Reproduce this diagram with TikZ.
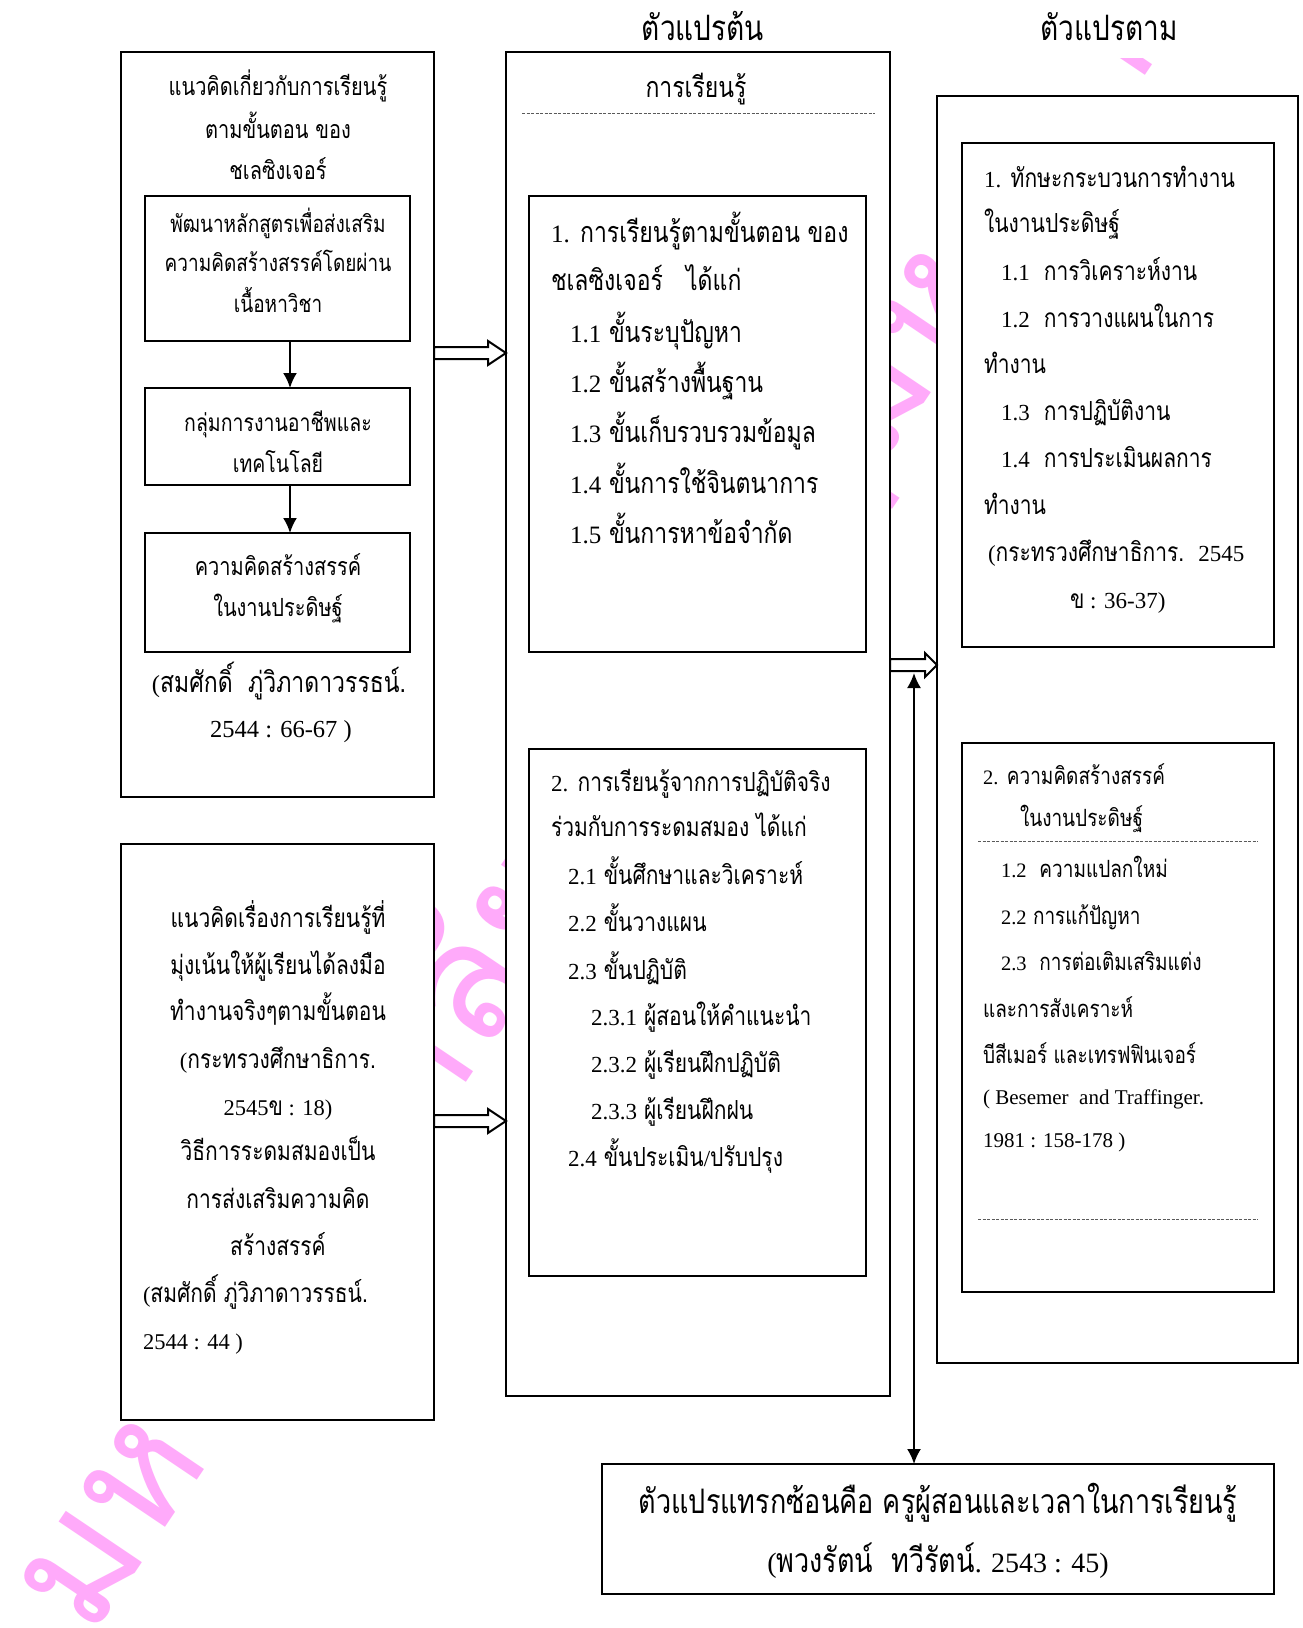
\documentclass[tikz,border=0pt]{standalone}
\usepackage{fontspec}
\usetikzlibrary{calc,arrows.meta}
\newfontfamily\thf[Script=Thai,FakeStretch=0.8]{Loma}
\newfontfamily\wmf[Script=Thai]{Loma}
\newfontfamily\latf{Liberation Serif}
\newcommand\fsz[2]{\thf\fontsize{#1}{#1}\selectfont\def\dgs{#2}}
\newcommand\dg[1]{{\latf\fontsize{\dgs}{\dgs}\selectfont #1}}
\newcommand\lsz[1]{\latf\fontsize{#1}{#1}\selectfont}
\definecolor{wmpink}{RGB}{255,170,250}
\definecolor{dashgray}{RGB}{90,90,90}
\newcommand\harrow[3]{%
 \draw[hollow] ($(#1)+(0,-6)$) -- ($(#2)+(-#3,-6)$) -- ($(#2)+(-#3,-12)$) -- (#2) -- ($(#2)+(-#3,12)$) -- ($(#2)+(-#3,6)$) -- ($(#1)+(0,6)$) -- cycle;}
\begin{document}
\begin{tikzpicture}[x=1pt,y=-1pt,
 box/.style={draw, line width=2pt, fill=white, inner sep=0pt, outer sep=0pt},
 tl/.style={anchor=base west, inner sep=0pt, outer sep=0pt},
 tc/.style={anchor=base, inner sep=0pt, outer sep=0pt},
 hollow/.style={draw, line width=2pt, fill=white, line join=miter},
 dline/.style={draw=dashgray, line width=0.9pt, dash pattern=on 3pt off 1.5pt},
 sarrow/.style={line width=2pt, -{Latex[length=15pt,width=14pt]}},
 darrow/.style={line width=2pt, {Latex[length=15pt,width=14pt]}-{Latex[length=15pt,width=14pt]}},
 wm/.style={anchor=base west, inner sep=0pt, text=wmpink, font=\wmf\fontsize{165}{165}\selectfont, rotate=56}
]
\useasboundingbox (0,0) rectangle (1303,1628);
\fill[white] (0,0) rectangle (1303,1628);
% watermark
\begin{scope}
\clip (0,1628) -- (0,96) -- (1095,96) -- (1095,58) -- (1165,58) -- (1165,96) -- (1303,96) -- (1303,1628) -- cycle;
\node[wm] (wmark) at (90,1640) {มหาวิทยาลัยราชภัฏมหาสารคาม};
\end{scope}
% outer boxes
\node[box, minimum width=313pt, minimum height=745pt] (A) at (277.5,424.5) {};
\node[box, minimum width=313pt, minimum height=576pt] (C) at (277.5,1132) {};
\node[box, minimum width=384pt, minimum height=1344pt] (D) at (698,724) {};
\node[box, minimum width=361pt, minimum height=1267pt] (F) at (1117.5,729.5) {};
\node[box, minimum width=672pt, minimum height=130pt] (H) at (938,1529) {};
% inner boxes
\node[box, minimum width=265pt, minimum height=145pt] (B1) at (277.5,268.5) {};
\node[box, minimum width=265pt, minimum height=97pt] (B2) at (277.5,436.5) {};
\node[box, minimum width=265pt, minimum height=119pt] (B3) at (277.5,592.5) {};
\node[box, minimum width=337pt, minimum height=456pt] (E1) at (697.5,424) {};
\node[box, minimum width=337pt, minimum height=527pt] (E2) at (697.5,1012.5) {};
\node[box, minimum width=312pt, minimum height=504pt] (G1) at (1118,395) {};
\node[box, minimum width=312pt, minimum height=549pt] (G2) at (1118,1017.5) {};
% dashed lines
\coordinate (d1s) at (522,113); \coordinate (d1e) at (875,113);
\coordinate (d2s) at (978,841); \coordinate (d2e) at (1258,841);
\coordinate (d3s) at (978,1219); \coordinate (d3e) at (1258,1219);
\draw[dline] (d1s) -- (d1e);
\draw[dline] (d2s) -- (d2e);
\draw[dline] (d3s) -- (d3e);
% arrows
\draw[sarrow] (B1.south -| 290,0) -- (B2.north -| 290,0);
\draw[sarrow] (B2.south -| 290,0) -- (B3.north -| 290,0);
\coordinate (h1s) at (A.east |- 0,353); \coordinate (h1e) at (D.west |- 0,353);
\coordinate (h2s) at (C.east |- 0,1121); \coordinate (h2e) at (D.west |- 0,1121);
\coordinate (h3s) at (D.east |- 0,665); \coordinate (h3e) at (F.west |- 0,665);
\harrow{h1s}{h1e}{18}
\harrow{h2s}{h2e}{18}
\harrow{h3s}{h3e}{12}
\coordinate (vt) at (914,673);
\draw[darrow] (vt) -- (vt |- H.north);
% titles
\node[tc, font=\fsz{35}{28}] (t1) at (703,40) {ตัวแปรต้น};
\node[tc, font=\fsz{35}{28}] (t2) at (1109,40) {ตัวแปรตาม};
% box A text
\node[tc, font=\fsz{25}{21}] (a1) at (278,95) {แนวคิดเกี่ยวกับการเรียนรู้};
\node[tc, font=\fsz{25}{21}] (a2) at (278,138) {ตามขั้นตอน ของ};
\node[tc, font=\fsz{25}{21}] (a3) at (278,179) {ชเลซิงเจอร์};
\node[tc, font=\fsz{23.75}{20}] (b11) at (278,232) {พัฒนาหลักสูตรเพื่อส่งเสริม};
\node[tc, font=\fsz{23.75}{20}] (b12) at (278,271) {ความคิดสร้างสรรค์โดยผ่าน};
\node[tc, font=\fsz{23.75}{20}] (b13) at (278,312) {เนื้อหาวิชา};
\node[tc, font=\fsz{24.4}{20}] (b21) at (278,431) {กลุ่มการงานอาชีพและ};
\node[tc, font=\fsz{24.4}{20}] (b22) at (278,472) {เทคโนโลยี};
\node[tc, font=\fsz{25}{20}] (b31) at (278,575) {ความคิดสร้างสรรค์};
\node[tc, font=\fsz{25}{20}] (b32) at (278,616) {ในงานประดิษฐ์};
\node[tc, font=\fsz{28.75}{24.5}] (ac1) at (279,692) {\dg{(}สมศักดิ์\ \ ภู่วิภาดาวรรธน์.};
\node[tc, font=\fsz{28.75}{24.5}] (ac2) at (281,737) {\dg{2544 : 66-67 )}};
% box C text
\node[tc, font=\fsz{26.25}{22.5}] (c1) at (278,927) {แนวคิดเรื่องการเรียนรู้ที่};
\node[tc, font=\fsz{26.25}{22.5}] (c2) at (278,974) {มุ่งเน้นให้ผู้เรียนได้ลงมือ};
\node[tc, font=\fsz{26.25}{22.5}] (c3) at (278,1020) {ทำงานจริงๆตามขั้นตอน};
\node[tc, font=\fsz{26.25}{22.5}] (c4) at (278,1068) {\dg{(}กระทรวงศึกษาธิการ.};
\node[tc, font=\fsz{26.25}{22.5}] (c5) at (278,1115) {\dg{2545}ข\dg{ : 18)}};
\node[tc, font=\fsz{26.25}{22.5}] (c6) at (278,1160) {วิธีการระดมสมองเป็น};
\node[tc, font=\fsz{26.25}{22.5}] (c7) at (278,1208) {การส่งเสริมความคิด};
\node[tc, font=\fsz{26.25}{22.5}] (c8) at (278,1255) {สร้างสรรค์};
\node[tl, font=\fsz{26.25}{22.5}] (c9) at (143,1302) {\dg{(}สมศักดิ์ ภู่วิภาดาวรรธน์.};
\node[tl, font=\fsz{26.25}{22.5}] (c10) at (143,1349) {\dg{2544 : 44 )}};
% box D text
\node[tc, font=\fsz{28.75}{24}] (dh) at (696,97) {การเรียนรู้};
\node[tl, font=\fsz{28.75}{25}] (e11) at (551,242) {\dg{1.} การเรียนรู้ตามขั้นตอน ของ};
\node[tl, font=\fsz{28.75}{25}] (e12) at (551,290) {ชเลซิงเจอร์\ \ \ ได้แก่};
\node[tl, font=\fsz{28.75}{25}] (e13) at (570,342) {\dg{1.1} ขั้นระบุปัญหา};
\node[tl, font=\fsz{28.75}{25}] (e14) at (570,392) {\dg{1.2} ขั้นสร้างพื้นฐาน};
\node[tl, font=\fsz{28.75}{25}] (e15) at (570,442) {\dg{1.3} ขั้นเก็บรวบรวมข้อมูล};
\node[tl, font=\fsz{28.75}{25}] (e16) at (570,493) {\dg{1.4} ขั้นการใช้จินตนาการ};
\node[tl, font=\fsz{28.75}{25}] (e17) at (570,543) {\dg{1.5} ขั้นการหาข้อจำกัด};
\node[tl, font=\fsz{26.25}{23}] (e21) at (551,791) {\dg{2.} การเรียนรู้จากการปฏิบัติจริง};
\node[tl, font=\fsz{26.25}{23}] (e22) at (551,836) {ร่วมกับการระดมสมอง ได้แก่};
\node[tl, font=\fsz{26.25}{23}] (e23) at (568,884) {\dg{2.1} ขั้นศึกษาและวิเคราะห์};
\node[tl, font=\fsz{26.25}{23}] (e24) at (568,931) {\dg{2.2} ขั้นวางแผน};
\node[tl, font=\fsz{26.25}{23}] (e25) at (568,979) {\dg{2.3} ขั้นปฏิบัติ};
\node[tl, font=\fsz{26.25}{23}] (e26) at (591,1025) {\dg{2.3.1} ผู้สอนให้คำแนะนำ};
\node[tl, font=\fsz{26.25}{23}] (e27) at (591,1072) {\dg{2.3.2} ผู้เรียนฝึกปฏิบัติ};
\node[tl, font=\fsz{26.25}{23}] (e28) at (591,1119) {\dg{2.3.3} ผู้เรียนฝึกฝน};
\node[tl, font=\fsz{26.25}{23}] (e29) at (568,1166) {\dg{2.4} ขั้นประเมิน\dg{/}ปรับปรุง};
% box G1 text
\node[tl, font=\fsz{26.25}{23}] (g11) at (984,187) {\dg{1.} ทักษะกระบวนการทำงาน};
\node[tl, font=\fsz{26.25}{23}] (g12) at (984,232) {ในงานประดิษฐ์};
\node[tl, font=\fsz{26.25}{23}] (g13) at (1001,280) {\dg{1.1}\ \ การวิเคราะห์งาน};
\node[tl, font=\fsz{26.25}{23}] (g14) at (1001,327) {\dg{1.2}\ \ การวางแผนในการ};
\node[tl, font=\fsz{26.25}{23}] (g15) at (984,373) {ทำงาน};
\node[tl, font=\fsz{26.25}{23}] (g16) at (1001,420) {\dg{1.3}\ \ การปฏิบัติงาน};
\node[tl, font=\fsz{26.25}{23}] (g17) at (1001,467) {\dg{1.4}\ \ การประเมินผลการ};
\node[tl, font=\fsz{26.25}{23}] (g18) at (984,514) {ทำงาน};
\node[tl, font=\fsz{26.25}{23}] (g19) at (988,561) {\dg{(}กระทรวงศึกษาธิการ.\ \ \dg{2545}};
\node[tl, font=\fsz{26.25}{23}] (g110) at (1070,608) {ข\dg{ : 36-37)}};
% box G2 text
\node[tl, font=\fsz{23.75}{20.5}] (g21) at (983,784) {\dg{2.} ความคิดสร้างสรรค์};
\node[tl, font=\fsz{23.75}{20.5}] (g22) at (1020,826) {ในงานประดิษฐ์};
\node[tl, font=\fsz{23.75}{20.5}] (g23) at (1001,877) {\dg{1.2}\ \ ความแปลกใหม่};
\node[tl, font=\fsz{23.75}{20.5}] (g24) at (1001,924) {\dg{2.2} การแก้ปัญหา};
\node[tl, font=\fsz{23.75}{20.5}] (g25) at (1001,970) {\dg{2.3}\ \ การต่อเติมเสริมแต่ง};
\node[tl, font=\fsz{23.75}{20.5}] (g26) at (983,1017) {และการสังเคราะห์};
\node[tl, font=\fsz{23.75}{20.5}] (g27) at (983,1063) {บีสีเมอร์ และเทรฟฟินเจอร์};
\node[tl, font=\lsz{21}] (g28) at (983,1104) {( Besemer\ \ and Traffinger.};
\node[tl, font=\lsz{21}] (g29) at (983,1147) {1981 : 158-178 )};
% box H text
\node[tc, font=\fsz{33.75}{28}] (h1) at (938,1513) {ตัวแปรแทรกซ้อนคือ ครูผู้สอนและเวลาในการเรียนรู้};
\node[tc, font=\fsz{33.75}{28}] (h2) at (938,1572) {\dg{(}พวงรัตน์\ \ ทวีรัตน์\dg{. 2543 : 45)}};
\end{tikzpicture}
\end{document}
